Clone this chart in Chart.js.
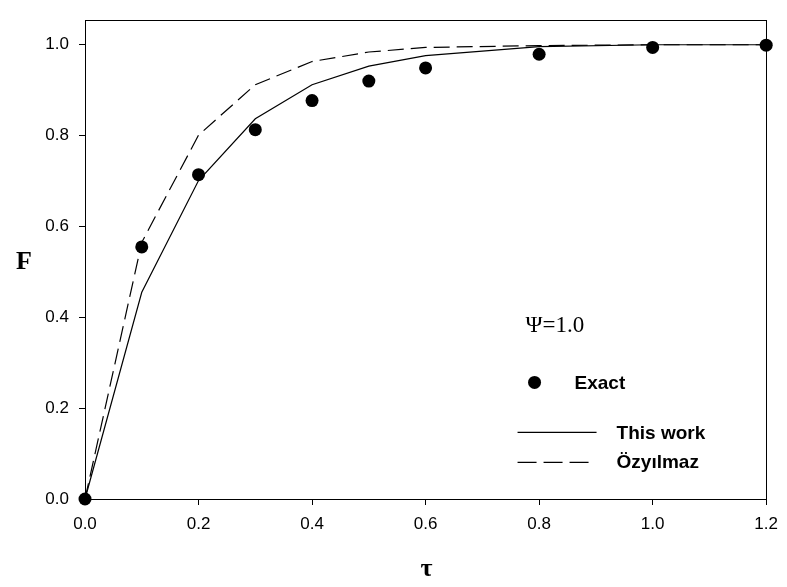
<!DOCTYPE html>
<html>
<head>
<meta charset="utf-8">
<script src="https://cdn.jsdelivr.net/npm/chart.js@4/dist/chart.umd.min.js"></script>
<style>
  html, body { margin: 0; padding: 0; background: #fff; }
  #wrap { width: 787px; height: 587px; }
</style>
</head>
<body>
<div id="wrap"><canvas id="fChart" width="787" height="587"></canvas></div>
<script>
// tau values and the three curves of F
var tauValues = [0, 0.1, 0.2, 0.3, 0.4, 0.5, 0.6, 0.8, 1.0, 1.2];
var exactValues = [0, 0.555, 0.714, 0.813, 0.877, 0.920, 0.949, 0.979, 0.994, 0.999];
var thisWorkValues = [0, 0.455, 0.701, 0.837, 0.912, 0.953, 0.976, 0.996, 1.0, 1.0];
var ozyilmazValues = [0, 0.565, 0.801, 0.912, 0.963, 0.984, 0.994, 0.998, 1.0, 1.0];

var xTicks = [0, 0.2, 0.4, 0.6, 0.8, 1.0, 1.2];
var yTicks = [0, 0.2, 0.4, 0.6, 0.8, 1.0];

var legendTitle = 'Ψ=1.0';
var legendLabels = ['Exact', 'This work', 'Özyılmaz'];
var xTitle = 'τ';
var yTitle = 'F';

function toPoints(xs, ys) {
  return xs.map(function (x, i) { return { x: x, y: ys[i] }; });
}

// frame on top and right + upright axis titles
var framePlugin = {
  id: 'frame',
  afterDraw: function (chart) {
    var ctx = chart.ctx;
    var a = chart.chartArea;
    ctx.save();
    ctx.strokeStyle = '#000';
    ctx.lineWidth = 1;
    ctx.strokeRect(Math.round(a.left) + 0.5, Math.round(a.top) + 0.5,
                   Math.round(a.right - a.left), Math.round(a.bottom - a.top));

    ctx.fillStyle = '#000';
    ctx.textAlign = 'center';
    ctx.textBaseline = 'middle';
    ctx.font = 'bold 26px "Liberation Serif", "Times New Roman", serif';
    ctx.fillText(yTitle, 24, (a.top + a.bottom) / 2 + 3);
    ctx.fillText(xTitle, (a.left + a.right) / 2 + 1, 569);
    ctx.restore();
  }
};

// legend block inside the plot area
var legendPlugin = {
  id: 'plotLegend',
  afterDraw: function (chart) {
    var ctx = chart.ctx;
    var xs = chart.scales.x;
    var ys = chart.scales.y;
    var left = xs.getPixelForValue(0.762);
    var top = ys.getPixelForValue(0.38);
    ctx.save();
    ctx.fillStyle = '#000';
    ctx.strokeStyle = '#000';
    ctx.textBaseline = 'middle';
    ctx.textAlign = 'left';

    ctx.font = '23px "Liberation Serif", "Times New Roman", serif';
    ctx.fillText(legendTitle, left + 8, top);

    ctx.font = 'bold 19px "Liberation Sans", Arial, sans-serif';
    // Exact: filled dot
    ctx.beginPath();
    ctx.arc(left + 17, top + 56, 6.5, 0, Math.PI * 2);
    ctx.fill();
    ctx.fillText(legendLabels[0], left + 57, top + 57);

    // This work: solid line
    ctx.lineWidth = 1.2;
    ctx.setLineDash([]);
    ctx.beginPath();
    ctx.moveTo(left, top + 106);
    ctx.lineTo(left + 79, top + 106);
    ctx.stroke();
    ctx.fillText(legendLabels[1], left + 99, top + 107);

    // Özyılmaz: dashed line
    ctx.setLineDash([19, 7]);
    ctx.beginPath();
    ctx.moveTo(left, top + 136);
    ctx.lineTo(left + 73, top + 136);
    ctx.stroke();
    ctx.setLineDash([]);
    ctx.fillText(legendLabels[2], left + 99, top + 136);
    ctx.restore();
  }
};

var tickFont = { family: '"Liberation Sans", Arial, sans-serif', size: 17 };

new Chart(document.getElementById('fChart'), {
  type: 'scatter',
  data: {
    datasets: [
      {
        label: legendLabels[0],
        data: toPoints(tauValues, exactValues),
        showLine: false,
        pointRadius: 6.5,
        pointHoverRadius: 6.5,
        pointBackgroundColor: '#000',
        pointBorderColor: '#000',
        pointBorderWidth: 0,
        clip: false
      },
      {
        label: legendLabels[1],
        data: toPoints(tauValues, thisWorkValues),
        showLine: true,
        borderColor: '#000',
        borderWidth: 1.2,
        pointRadius: 0,
        tension: 0,
        clip: false
      },
      {
        label: legendLabels[2],
        data: toPoints(tauValues, ozyilmazValues),
        showLine: true,
        borderColor: '#000',
        borderWidth: 1.2,
        borderDash: [16, 7],
        pointRadius: 0,
        tension: 0,
        clip: false
      }
    ]
  },
  options: {
    responsive: false,
    animation: false,
    layout: { padding: { top: 7, right: 19, left: 0, bottom: 0 } },
    plugins: {
      legend: { display: false },
      tooltip: { enabled: false }
    },
    scales: {
      x: {
        type: 'linear',
        min: 0,
        max: 1.2,
        afterFit: function (scale) { scale.height = 88; },
        afterBuildTicks: function (scale) {
          scale.ticks = xTicks.map(function (v) { return { value: v }; });
        },
        ticks: {
          color: '#000',
          font: tickFont,
          padding: 9,
          maxRotation: 0,
          callback: function (v) { return Number(v).toFixed(1); }
        },
        grid: {
          drawOnChartArea: false,
          drawTicks: true,
          tickLength: 6,
          tickColor: '#000',
          tickWidth: 1
        },
        border: { display: true, color: '#000', width: 1 }
      },
      y: {
        type: 'linear',
        min: 0,
        max: 1.054,
        afterFit: function (scale) { scale.width = 85; },
        afterBuildTicks: function (scale) {
          scale.ticks = yTicks.map(function (v) { return { value: v }; });
        },
        ticks: {
          color: '#000',
          font: tickFont,
          padding: 10,
          callback: function (v) { return Number(v).toFixed(1); }
        },
        grid: {
          drawOnChartArea: false,
          drawTicks: true,
          tickLength: 6,
          tickColor: '#000',
          tickWidth: 1
        },
        border: { display: true, color: '#000', width: 1 }
      }
    }
  },
  plugins: [framePlugin, legendPlugin]
});
</script>
</body>
</html>
